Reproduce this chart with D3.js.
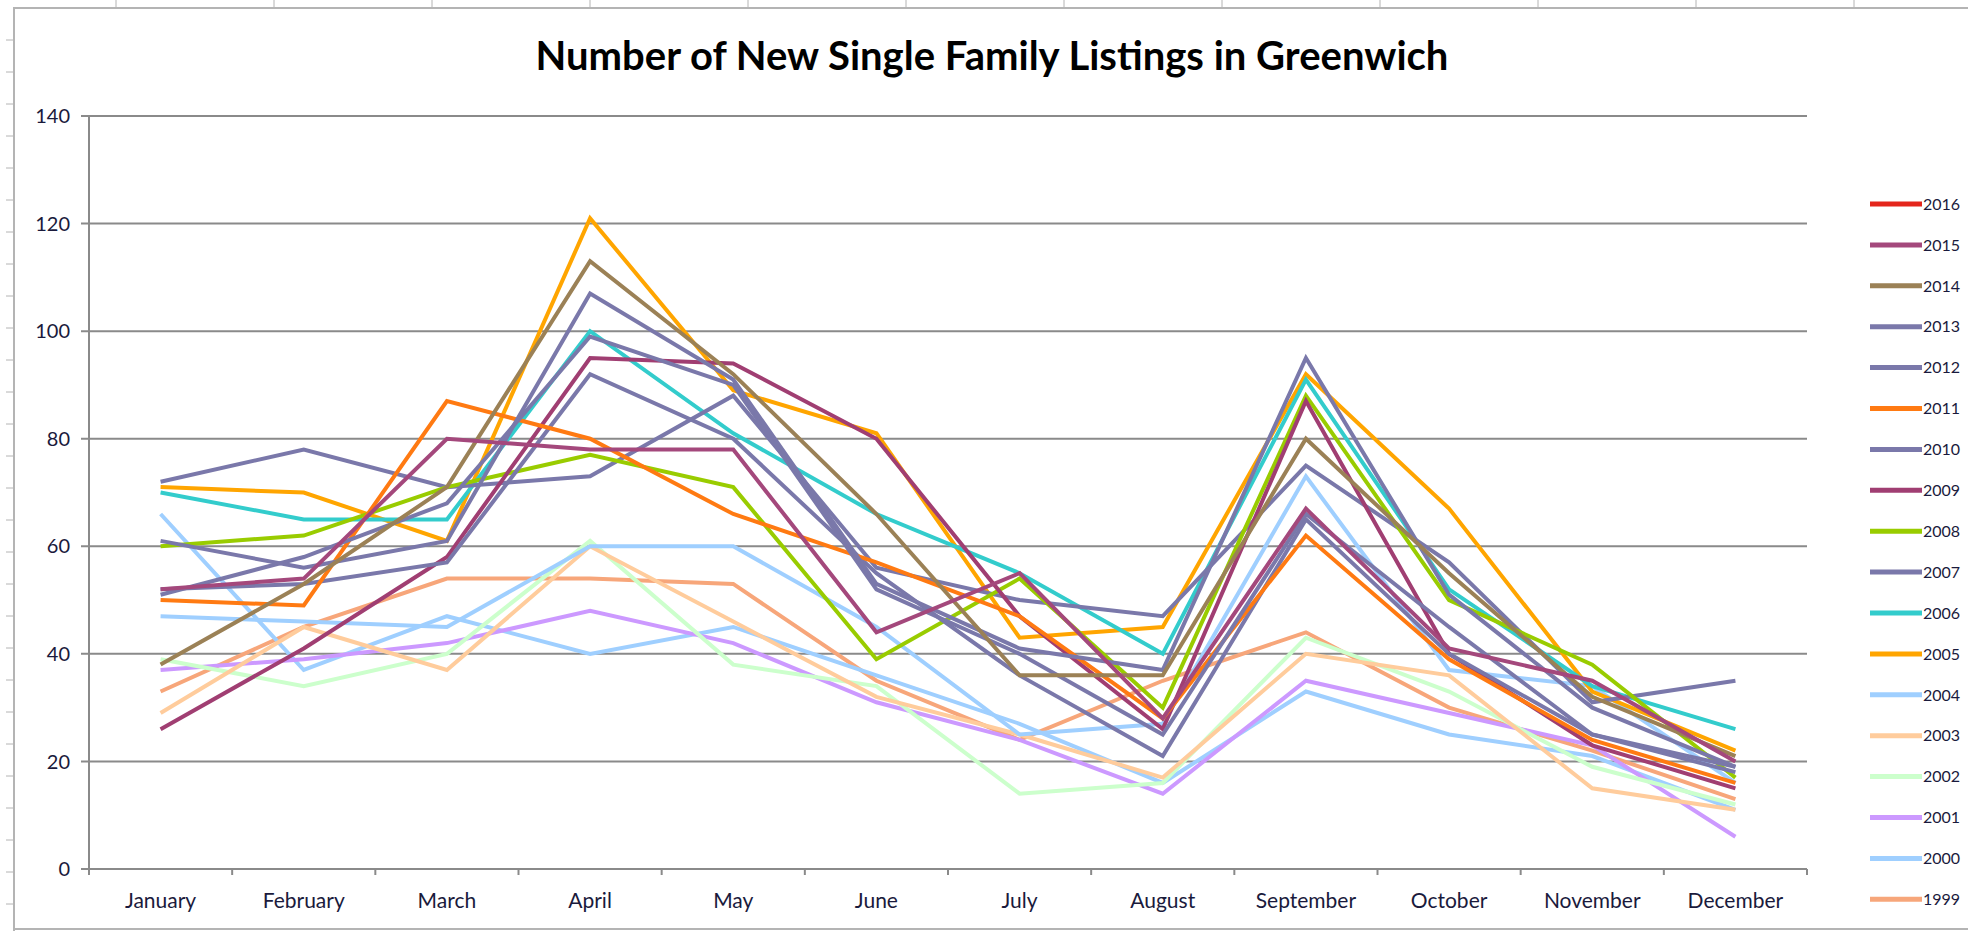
<!DOCTYPE html>
<html lang="en">
<head>
  <meta charset="UTF-8">
  <title>Number of New Single Family Listings in Greenwich</title>
  <script src="https://d3js.org/d3.v7.min.js"></script>
  <style>
    html, body { margin: 0; padding: 0; background: #fff; }
    svg { display: block; }
  </style>
</head>
<body>
  <svg id="svg" width="1968" height="931"></svg>
  <script>
    // months on the category axis
    var months = ["January", "February", "March", "April", "May", "June",
      "July", "August", "September", "October", "November", "December"];

    // one array per year (new listings per month)
    var y2016 = [];
    var y2015 = [52, 54, 80, 78, 78, 44, 55, 28, 67, 41, 35, 20];
    var y2014 = [38, 53, 71, 113, 92, 66, 36, 36, 80, 55, 32, 21];
    var y2013 = [61, 56, 61, 107, 91, 53, 41, 37, 95, 51, 30, 19];
    var y2012 = [51, 58, 68, 99, 90, 52, 40, 25, 66, 45, 25, 18];
    var y2011 = [50, 49, 87, 80, 66, 57, 47, 28, 62, 39, 24, 16];
    var y2010 = [52, 53, 57, 92, 80, 55, 36, 21, 65, 40, 25, 19];
    var y2009 = [26, 41, 58, 95, 94, 80, 47, 26, 87, 40, 23, 15];
    var y2008 = [60, 62, 71, 77, 71, 39, 54, 30, 88, 50, 38, 17];
    var y2007 = [72, 78, 71, 73, 88, 56, 50, 47, 75, 57, 31, 35];
    var y2006 = [70, 65, 65, 100, 81, 66, 55, 40, 91, 52, 34, 26];
    var y2005 = [71, 70, 61, 121, 89, 81, 43, 45, 92, 67, 33, 22];
    var y2004 = [47, 46, 45, 60, 60, 45, 25, 27, 73, 37, 34, 16];
    var y2003 = [29, 45, 37, 60, 46, 32, 25, 17, 40, 36, 15, 11];
    var y2002 = [39, 34, 40, 61, 38, 34, 14, 16, 43, 33, 19, 12];
    var y2001 = [37, 39, 42, 48, 42, 31, 24, 14, 35, 29, 23, 6];
    var y2000 = [66, 37, 47, 40, 45, 36, 27, 16, 33, 25, 21, 11];
    var y1999 = [33, 45, 54, 54, 53, 35, 24, 35, 44, 30, 22, 13];

    var years = ["2016", "2015", "2014", "2013", "2012", "2011", "2010", "2009", "2008",
      "2007", "2006", "2005", "2004", "2003", "2002", "2001", "2000", "1999"];
    var yTicks = [0, 20, 40, 60, 80, 100, 120, 140];

    var colors = ["#e4261c", "#a4487c", "#9b8156", "#7a78aa", "#7a78aa", "#ff7a12",
      "#7a78aa", "#a03e72", "#99cc00", "#7a78aa", "#33cccc", "#ffa500",
      "#9fcfff", "#ffcc9c", "#ccffcc", "#cc99ff", "#9fcfff", "#f7a67a"];

    var seriesValues = [y2016, y2015, y2014, y2013, y2012, y2011, y2010, y2009, y2008,
      y2007, y2006, y2005, y2004, y2003, y2002, y2001, y2000, y1999];

    var series = years.map(function (yr, i) {
      return { year: yr, color: colors[i], values: seriesValues[i] };
    });

    var svg = d3.select("#svg");
    var font = "Lato, 'Open Sans', sans-serif";

    var plotLeft = 89, plotRight = 1807, plotTop = 116, plotBottom = 869;

    // spreadsheet frame behind the chart
    var frame = svg.append("g").attr("stroke", "#b4b4b4").attr("fill", "none");
    frame.append("path").attr("d", "M14,931V8H1968").attr("stroke-width", 2);
    frame.append("path").attr("d", "M14,929H1968").attr("stroke-width", 2);
    d3.range(40, 931, 32).forEach(function (yy) {
      frame.append("line").attr("x1", 6).attr("x2", 13).attr("y1", yy).attr("y2", yy)
        .attr("stroke-width", 1);
    });
    d3.range(116, 1968, 158).forEach(function (xx) {
      frame.append("line").attr("x1", xx).attr("x2", xx).attr("y1", 0).attr("y2", 7)
        .attr("stroke-width", 1);
    });

    var x = d3.scaleBand().domain(months).range([plotLeft, plotRight]);
    var y = d3.scaleLinear().domain([0, 140]).range([plotBottom, plotTop]);

    // gridlines
    svg.append("g")
      .selectAll("line")
      .data(yTicks)
      .enter().append("line")
      .attr("x1", plotLeft - 8)
      .attr("x2", plotRight)
      .attr("y1", function (d) { return y(d); })
      .attr("y2", function (d) { return y(d); })
      .attr("stroke", "#8a8a8a")
      .attr("stroke-width", 2);

    // y axis
    svg.append("line")
      .attr("x1", plotLeft).attr("x2", plotLeft)
      .attr("y1", y(140)).attr("y2", plotBottom + 6)
      .attr("stroke", "#8a8a8a").attr("stroke-width", 2);

    svg.append("g")
      .selectAll("text")
      .data(yTicks)
      .enter().append("text")
      .attr("x", 70)
      .attr("y", function (d) { return y(d); })
      .attr("dy", "0.36em")
      .attr("text-anchor", "end")
      .attr("font-family", font)
      .attr("font-size", 20)
      .attr("fill", "#1a1a3c")
      .text(function (d) { return d; });

    // x axis ticks at the band edges
    var edges = months.map(function (m) { return x(m); }).concat([plotRight]);
    svg.append("g")
      .selectAll("line")
      .data(edges)
      .enter().append("line")
      .attr("x1", function (d) { return d; })
      .attr("x2", function (d) { return d; })
      .attr("y1", plotBottom)
      .attr("y2", plotBottom + 6)
      .attr("stroke", "#8a8a8a")
      .attr("stroke-width", 2);

    svg.append("g")
      .selectAll("text")
      .data(months)
      .enter().append("text")
      .attr("x", function (d) { return x(d) + x.bandwidth() / 2; })
      .attr("y", 908)
      .attr("text-anchor", "middle")
      .attr("font-family", font)
      .attr("font-size", 21)
      .attr("fill", "#1a1a3c")
      .text(function (d) { return d; });

    // lines, oldest drawn first
    var line = d3.line()
      .x(function (d, i) { return x(months[i]) + x.bandwidth() / 2; })
      .y(function (d) { return y(d); });

    svg.append("g")
      .attr("fill", "none")
      .selectAll("path")
      .data(series.slice().reverse().filter(function (s) { return s.values.length; }))
      .enter().append("path")
      .attr("d", function (s) { return line(s.values); })
      .attr("stroke", function (s) { return s.color; })
      .attr("stroke-width", 4)
      .attr("stroke-linejoin", "miter");

    // title
    svg.append("text")
      .attr("x", 992)
      .attr("y", 70)
      .attr("text-anchor", "middle")
      .attr("font-family", font)
      .attr("font-weight", "bold")
      .attr("font-size", 40)
      .attr("fill", "#000")
      .text("Number of New Single Family Listings in Greenwich");

    // legend
    var legend = svg.append("g")
      .selectAll("g")
      .data(series)
      .enter().append("g")
      .attr("transform", function (d, i) { return "translate(1870," + (204 + i * 40.9) + ")"; });

    legend.append("line")
      .attr("x1", 0).attr("x2", 52)
      .attr("stroke", function (d) { return d.color; })
      .attr("stroke-width", 5);

    legend.append("text")
      .attr("x", 53)
      .attr("dy", "0.36em")
      .attr("font-family", font)
      .attr("font-size", 16)
      .attr("fill", "#1a1a3c")
      .text(function (d) { return d.year; });
  </script>
</body>
</html>
